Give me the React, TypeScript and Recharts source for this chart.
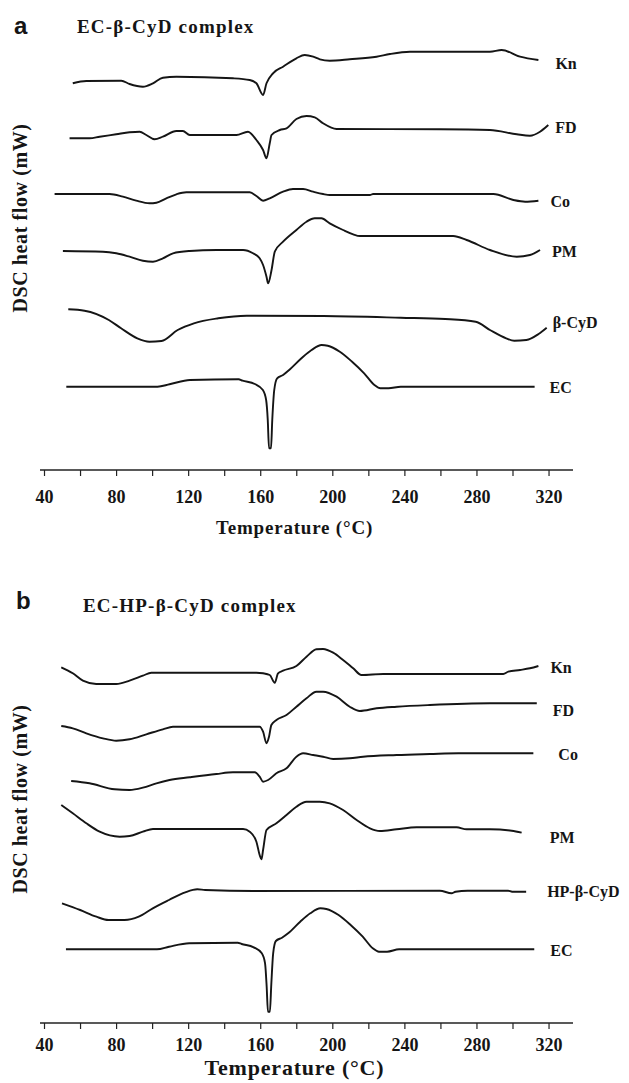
import React from 'react';
import { LineChart, Line, XAxis, YAxis, LabelList } from 'recharts';

const SERIF = '"Liberation Serif", "Times New Roman", serif';
const SANS = '"Liberation Sans", Arial, sans-serif';
const INK = '#151515';

// ---------- x axis ticks (°C) ----------
const tempTicks = [40, 60, 80, 100, 120, 140, 160, 180, 200, 220, 240, 260, 280, 300, 320];

// ---------- Panel a : EC-β-CyD complex (heat flow, offset arbitrary units) ----------
const aKnT = [55.7, 63.2, 82.6, 87.2, 94.6, 100.2, 105.7, 113.2, 144.6, 153.9, 157.6, 161.3, 163.2, 166.8, 172.4, 179.8, 184.4, 189.1, 192.8, 198.3, 209.4, 224.3, 231.7, 242.8, 287.2, 293.7, 303.9, 314.1];
const aKnV = [386.7, 389, 389.3, 386, 383.3, 386.7, 392.3, 393.3, 391.7, 390, 386.7, 375, 386.7, 396.7, 403.3, 411.7, 415, 413.3, 410.7, 409.3, 410.7, 413.3, 416, 418.3, 418.3, 420, 413.3, 410];

const aFDT = [53.9, 65, 70.6, 79.8, 87.2, 92.8, 96.5, 101.1, 105.7, 113.2, 116.8, 120.6, 146.5, 152.9, 157.6, 161.3, 163.2, 165, 166, 170.6, 174.3, 179.8, 185.4, 190, 194.6, 202.1, 259.4, 287.2, 302.1, 309.4, 315, 319.6];
const aFDV = [331.7, 331.7, 333.3, 335.7, 337.7, 338.3, 335, 330.7, 333.3, 339, 339, 335, 335, 338.3, 330, 320, 311.7, 326.7, 335, 340, 341.7, 351, 354, 352.7, 346.7, 341, 340.7, 340, 335.7, 334.3, 338.3, 345];

const aCoT = [45.6, 76.1, 83.5, 90.9, 98.3, 102.1, 107.6, 113.2, 118.7, 153.9, 157.6, 161.3, 165, 172.4, 177.9, 183.5, 189.1, 194.6, 198.3, 220.6, 222.4, 259.4, 289.1, 300.2, 306.7, 314.1];
const aCoV = [276, 276, 273.3, 269.3, 266.7, 267.3, 271.7, 275.7, 277.7, 277.7, 274, 269.3, 271.7, 278.3, 281, 281, 278.3, 276, 275, 275, 276, 276, 276, 270, 268.3, 269.3];

const aPMT = [50.2, 72.4, 79.8, 87.2, 94.6, 100.2, 105.7, 111.3, 120.6, 135.4, 150.2, 155.7, 159.4, 161.3, 163.2, 164.1, 166, 167.8, 172.4, 179.8, 185.4, 190, 193.7, 198.3, 205.7, 211.3, 215, 266.8, 274.3, 287.2, 302.1, 309.4, 315];
const aPMV = [219, 218.3, 216.7, 213.3, 209.3, 208.3, 211.7, 216.7, 219, 220, 220, 216.7, 211.7, 205, 193.3, 186.7, 200, 218.3, 228.3, 240, 248.3, 251.7, 251.7, 246.7, 240, 235.7, 234, 234, 230, 220, 213.3, 215, 220];

const aBCT = [53.2, 62.2, 75.7, 82.5, 91.5, 98.2, 104.9, 113.9, 122.9, 136.4, 152.2, 194.9, 237.7, 262.4, 279.3, 287.2, 296.2, 300.7, 307.4, 314.2, 318.7];
const aBCV = [160.7, 159.3, 150, 141.7, 131.7, 128.3, 129, 140, 146.7, 151.7, 154.3, 154, 152.3, 151, 148.3, 140, 131.7, 129.3, 130, 136, 142.3];

const aECT = [52.1, 102.7, 109.4, 120.7, 147.7, 149.9, 156.7, 161.2, 163, 163.9, 164.6, 165.7, 166.4, 167.5, 169.1, 172.4, 175.8, 182.6, 188.2, 193.8, 197.2, 203.9, 210.7, 217.4, 223.1, 226.4, 230.9, 237.7, 312];
const aECV = [83.3, 83.3, 85.7, 90, 90.7, 89.3, 86, 80, 70, 50, 21.7, 21.7, 50, 80, 91.7, 95, 100, 111.7, 120, 125, 124.3, 118.3, 108.3, 96.7, 85, 81.7, 81.7, 83.3, 83.3];

// ---------- Panel b : EC-HP-β-CyD complex ----------
const bKnT = [49.3, 55.7, 61.3, 68.7, 79.8, 87.2, 94.6, 99.3, 111.3, 157.6, 161.3, 165, 167.8, 169.6, 172.4, 179.8, 185.4, 190.9, 194.6, 200.2, 205.7, 211.3, 215.9, 228, 259.4, 294.6, 297.4, 303.9, 309.4, 314.1];
const bKnV = [355.7, 349.7, 342.3, 339, 339, 342.3, 347.3, 350.3, 350.3, 350.3, 349.7, 348, 340.3, 349.7, 352.3, 357, 366.3, 373.7, 374, 370.3, 363, 354.7, 348, 349, 349, 349, 351.3, 353, 354.7, 357];

const bFDT = [49.3, 55.7, 63.2, 72.4, 79.8, 87.2, 96.5, 105.7, 111.3, 159.4, 161.3, 163.2, 164.6, 165.9, 168.7, 174.3, 179.8, 185.4, 190.9, 194.6, 202.1, 209.4, 215, 224.3, 235.4, 253.9, 287.2, 313.2];
const bFDV = [297, 294.7, 289.7, 284.7, 282.3, 283.7, 288.7, 293.7, 296.3, 296.3, 291.3, 279.7, 286.3, 298, 303, 308, 316.3, 324.7, 331.3, 331.3, 326.3, 316.3, 312, 314.7, 316.3, 318, 319.7, 319.7];

const bCoT = [54.8, 65, 78.9, 87.2, 94.6, 102.1, 109.4, 120.6, 135.4, 144.6, 156.7, 159.4, 161.3, 164.1, 168.7, 174.3, 179.8, 183.5, 189.1, 194.6, 200.2, 209.4, 216.8, 235.4, 253.9, 269.6, 311.3];
const bCoV = [242, 239.7, 233.7, 233, 235.3, 239.7, 243, 245.7, 249, 250.7, 250.7, 246.3, 241.3, 243, 249.7, 254.7, 266.3, 269.7, 268, 266.3, 264, 264.7, 266.3, 268, 269, 269.7, 269.7];

const bPMT = [49.3, 55.7, 63.2, 70.6, 81.7, 87.2, 94.6, 100.2, 118.7, 150.2, 153.9, 157.6, 159.4, 160.4, 161.3, 163.2, 168.7, 174.3, 179.8, 185.4, 192.8, 198.3, 205.7, 213.2, 220.6, 226.1, 235.4, 246.5, 268.7, 274.3, 287.2, 299.3, 304.8];
const bPMV = [218, 209.7, 199.7, 191.3, 186.3, 187, 191.3, 194, 194, 194, 191.3, 181.3, 168, 163.7, 173, 193, 199.7, 208, 216.3, 221.3, 221.3, 219.7, 213, 203, 194.7, 192, 193.7, 195.7, 195.7, 193.7, 193.7, 192.3, 190.3];

const bHPT = [49.7, 59.8, 68.8, 75.5, 84.4, 92.3, 100.1, 109.1, 118.1, 124.8, 129.2, 156.1, 259.4, 265.9, 268.1, 274.8, 297.3, 299.5, 307.3];
const bHPV = [119.7, 113, 106.3, 103, 103, 106.3, 114.7, 123, 130.7, 133.7, 133, 132, 132.3, 129.7, 131.3, 132.3, 132.3, 131.3, 131.3];

const bECT = [51.9, 102.4, 109.1, 120.3, 147.2, 149.4, 156.1, 160.6, 162.4, 163.3, 164, 165.1, 165.8, 166.9, 168.4, 171.8, 175.2, 181.9, 187.5, 193.1, 196.4, 203.2, 209.9, 216.6, 222.2, 225.6, 230.1, 236.8, 311.8];
const bECV = [73.7, 73.7, 76.3, 79.7, 80.3, 79, 75.7, 69.7, 59.7, 36.3, 11.3, 11.3, 36.3, 69.7, 82, 85.3, 89.7, 101.3, 109.7, 114.7, 114, 108, 98, 86.3, 74.7, 71.3, 71.3, 73.7, 73.7];

const zip = (T: number[], V: number[]) => T.map((t, i) => ({ T: t, v: V[i] }));

type Series = { name: string; data: { T: number; v: number }[]; dx: number; dy: number };

const seriesA: Series[] = [
  { name: 'Kn', data: zip(aKnT, aKnV), dx: 17, dy: 3 },
  { name: 'FD', data: zip(aFDT, aFDV), dx: 7, dy: 2 },
  { name: 'Co', data: zip(aCoT, aCoV), dx: 12, dy: 1 },
  { name: 'PM', data: zip(aPMT, aPMV), dx: 12, dy: 1 },
  { name: 'β-CyD', data: zip(aBCT, aBCV), dx: 6, dy: -5 },
  { name: 'EC', data: zip(aECT, aECV), dx: 15, dy: 1 },
];

const seriesB: Series[] = [
  { name: 'Kn', data: zip(bKnT, bKnV), dx: 12, dy: 1 },
  { name: 'FD', data: zip(bFDT, bFDV), dx: 16, dy: 7 },
  { name: 'Co', data: zip(bCoT, bCoV), dx: 25, dy: 1 },
  { name: 'PM', data: zip(bPMT, bPMV), dx: 28, dy: 5 },
  { name: 'HP-β-CyD', data: zip(bHPT, bHPV), dx: 21, dy: 0 },
  { name: 'EC', data: zip(bECT, bECV), dx: 16, dy: 1 },
];

const endLabel = (name: string, n: number, dx: number, dy: number) => (props: any) => {
  if (props.index !== n - 1) return null;
  const x = props.x ?? props.viewBox?.x;
  const y = props.y ?? props.viewBox?.y;
  if (x == null || y == null) return null;
  return (
    <text
      key={`lbl-${name}`}
      x={x + dx}
      y={y + dy}
      fontFamily={SERIF}
      fontWeight="bold"
      fontSize={16}
      fill={INK}
      dominantBaseline="central"
    >
      {name}
    </text>
  );
};

const renderTempTick = (props: any) => {
  const { x, y, payload } = props;
  const v = payload?.value;
  if (v == null || v % 40 !== 0) return <g />;
  return (
    <text
      x={x}
      y={y}
      textAnchor="middle"
      dominantBaseline="central"
      style={{ fontFamily: SERIF, fontWeight: 700, fontSize: 18, fill: INK }}
    >
      {String(v)}
    </text>
  );
};

type PanelProps = {
  series: Series[];
  height: number;
  marginTop: number;
  xAxisHeight: number;
  tickMargin: number;
  yMax: number;
  xTitleDy: number;
  xTitleSize: number;
  yLabelDy: number;
};

function Panel(p: PanelProps) {
  return (
    <LineChart
      width={629}
      height={p.height}
      margin={{ top: p.marginTop, right: 56, bottom: 10, left: 0 }}
    >
      <XAxis
        type="number"
        dataKey="T"
        domain={[37.5, 333.3]}
        ticks={tempTicks}
        interval={0}
        allowDataOverflow
        height={p.xAxisHeight}
        tick={renderTempTick}
        tickSize={6}
        tickMargin={p.tickMargin}
        axisLine={{ stroke: '#222', strokeWidth: 1.5 }}
        tickLine={{ stroke: '#222', strokeWidth: 1.2 }}
        label={(lp: any) => {
          const vb = lp.viewBox || {};
          return (
            <text
              x={vb.x + vb.width / 2 - 12}
              y={vb.y + p.xTitleDy}
              textAnchor="middle"
              dominantBaseline="central"
              fontFamily={SERIF}
              fontWeight="bold"
              fontSize={p.xTitleSize}
              letterSpacing={0.8}
              fill={INK}
            >
              Temperature (°C)
            </text>
          );
        }}
      />
      <YAxis
        type="number"
        domain={[0, p.yMax]}
        allowDataOverflow
        width={40}
        axisLine={false}
        tickLine={false}
        tick={false}
        label={(lp: any) => {
          const vb = lp.viewBox || {};
          const cx = vb.x + 20;
          const cy = vb.y + vb.height / 2 + p.yLabelDy;
          return (
            <text
              x={cx}
              y={cy}
              transform={`rotate(-90 ${cx} ${cy})`}
              textAnchor="middle"
              dominantBaseline="central"
              fontFamily={SERIF}
              fontWeight="bold"
              fontSize={20}
              letterSpacing={0.6}
              fill={INK}
            >
              DSC heat flow (mW)
            </text>
          );
        }}
      />
      {p.series.map((s) => (
        <Line
          key={s.name}
          data={s.data}
          dataKey="v"
          type="monotone"
          stroke={INK}
          strokeWidth={1.9}
          dot={false}
          activeDot={false}
          isAnimationActive={false}
        >
          <LabelList dataKey="v" content={endLabel(s.name, s.data.length, s.dx, s.dy)} />
        </Line>
      ))}
    </LineChart>
  );
}

export default function App() {
  return (
    <div style={{ position: 'absolute', left: 0, top: 0, width: 629, height: 1083, background: '#fff' }}>
      <div style={{ position: 'absolute', left: 0, top: 0 }}>
        <Panel
          series={seriesA}
          height={540}
          marginTop={40}
          xAxisHeight={60}
          tickMargin={21}
          yMax={430}
          xTitleDy={57}
          xTitleSize={19}
          yLabelDy={-37}
        />
      </div>
      <div style={{ position: 'absolute', left: 0, top: 540 }}>
        <Panel
          series={seriesB}
          height={543}
          marginTop={93}
          xAxisHeight={50}
          tickMargin={16}
          yMax={390}
          xTitleDy={44}
          xTitleSize={22}
          yLabelDy={-29}
        />
      </div>
      <svg
        width={629}
        height={1083}
        style={{ position: 'absolute', left: 0, top: 0, pointerEvents: 'none' }}
      >
        <text x={14} y={25} dominantBaseline="central" fontFamily={SANS} fontWeight="bold" fontSize={24} fill={INK}>a</text>
        <text x={77} y={26} dominantBaseline="central" fontFamily={SERIF} fontWeight="bold" fontSize={19} letterSpacing={1.2} fill={INK}>EC-β-CyD complex</text>
        <text x={16} y={600} dominantBaseline="central" fontFamily={SANS} fontWeight="bold" fontSize={24} fill={INK}>b</text>
        <text x={83} y={605} dominantBaseline="central" fontFamily={SERIF} fontWeight="bold" fontSize={19} letterSpacing={1.2} fill={INK}>EC-HP-β-CyD complex</text>
      </svg>
    </div>
  );
}
